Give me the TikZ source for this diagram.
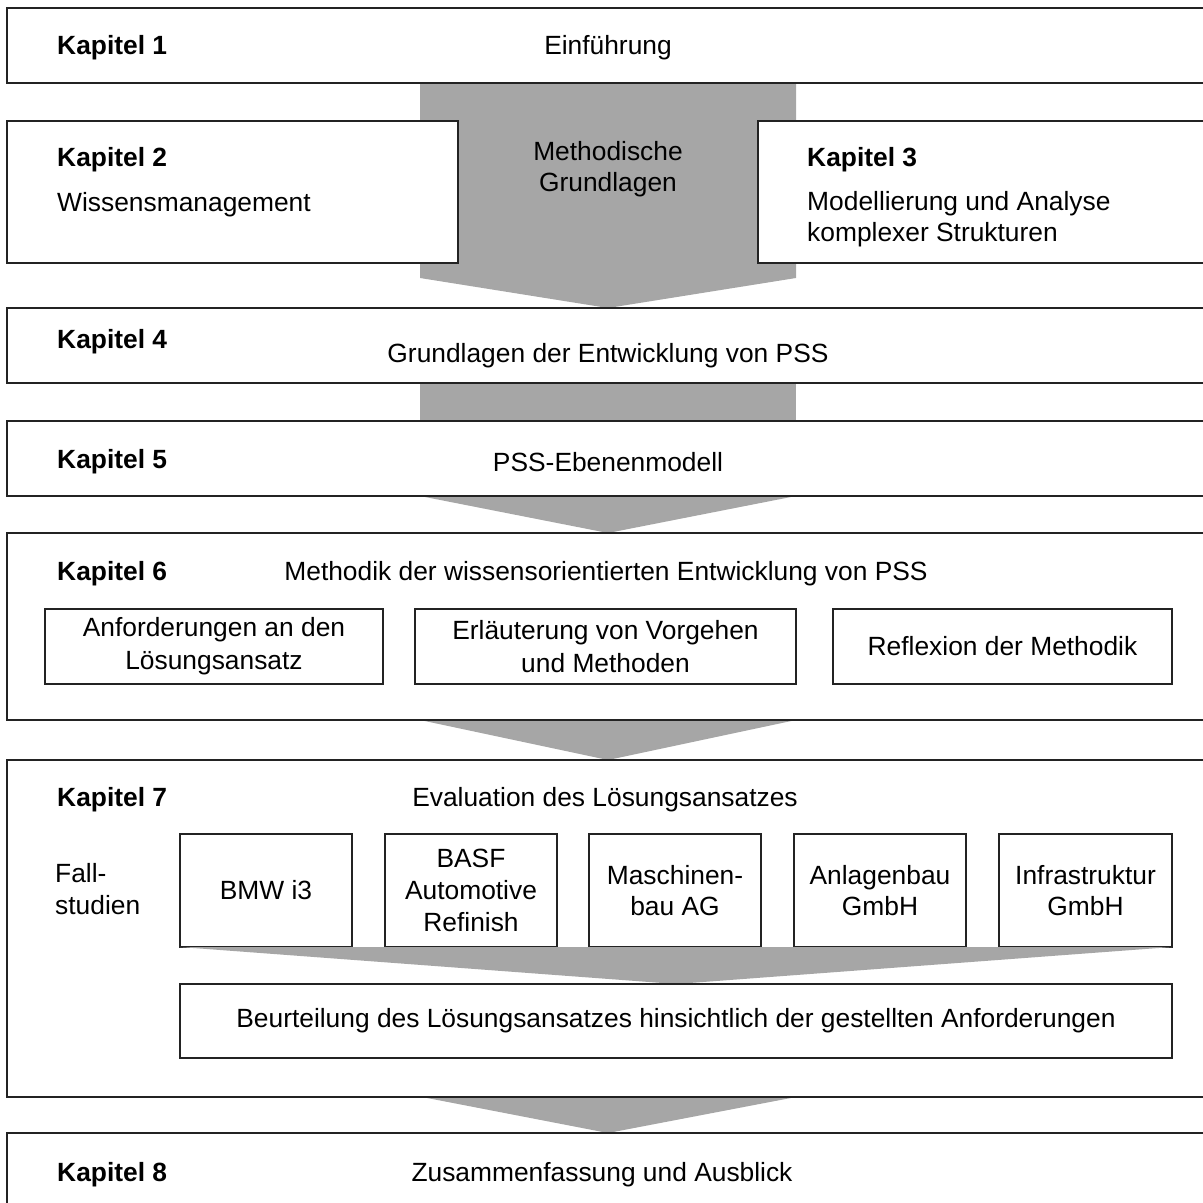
\documentclass[tikz,border=0pt]{standalone}
\usepackage{fontspec}
\setmainfont{Liberation Sans}
\usepackage{xcolor}
\usetikzlibrary{fit,positioning}
\definecolor{flowgray}{RGB}{166,166,166}
\definecolor{framegray}{RGB}{35,35,35}

\begin{document}
\begin{tikzpicture}[x=0.03cm, y=-0.03cm,
  chapbox/.style={draw=framegray, fill=white, line width=1pt, inner sep=0pt},
  subbox/.style={draw=framegray, fill=white, line width=1pt, inner sep=0pt},
  kaplabel/.style={font=\fontsize{22.5}{27}\selectfont\bfseries, anchor=west, inner sep=0pt},
  chaptext/.style={font=\fontsize{22.5}{27}\selectfont, align=center, inner sep=0pt},
  flow/.style={fill=flowgray, draw=none}]
\useasboundingbox (0,0) rectangle (1203,1202);
% grey flow shapes
\fill[flow] (420,83)--(796,83)--(796,278)--(608,308)--(420,278)--cycle;
\fill[flow] (420,383) rectangle (796,421);
\fill[flow] (420,496)--(796,496)--(608,533)--cycle;
\fill[flow] (420,720)--(796,720)--(608,760)--cycle;
\fill[flow] (422,1097)--(796,1097)--(608,1133)--cycle;
\node[chaptext] (meth) at (608,169) {Methodische\\Grundlagen};
% Kapitel 1
\node[chapbox, fit={(7,8) (1215,83)}] (k1) {};
\node[kaplabel] (k1lab) at (57,48) {Kapitel 1};
\node[chaptext] (k1txt) at (608,48) {Einführung};
% Kapitel 2 and 3
\node[chapbox, fit={(7,121) (458,263)}] (k2) {};
\node[kaplabel] (k2lab) at (57,160) {Kapitel 2};
\node[chaptext, anchor=west] (k2txt) at (57,205) {Wissensmanagement};
\node[chapbox, fit={(758,121) (1215,263)}] (k3) {};
\node[kaplabel] (k3lab) at (807,160) {Kapitel 3};
\node[chaptext, anchor=west, align=left] (k3txt) at (807,219) {Modellierung und Analyse\\komplexer Strukturen};
% Kapitel 4
\node[chapbox, fit={(7,308) (1215,383)}] (k4) {};
\node[kaplabel] (k4lab) at (57,342) {Kapitel 4};
\node[chaptext] (k4txt) at (608,356) {Grundlagen der Entwicklung von PSS};
% Kapitel 5
\node[chapbox, fit={(7,421) (1215,496)}] (k5) {};
\node[kaplabel] (k5lab) at (57,462) {Kapitel 5};
\node[chaptext] (k5txt) at (608,462) {PSS-Ebenenmodell};
% Kapitel 6
\node[chapbox, fit={(7,533) (1215,720)}] (k6) {};
\node[kaplabel] (k6lab) at (57,574) {Kapitel 6};
\node[chaptext] (k6txt) at (606,574) {Methodik der wissensorientierten Entwicklung von PSS};
\node[subbox, fit={(45,609) (383,684)}] (req) {};
\node[subbox, fit={(415,609) (796,684)}] (proc) {};
\node[subbox, fit={(833,609) (1172,684)}] (refl) {};
\node[chaptext, font=\fontsize{22.5}{28}\selectfont] (reqtxt) at (req) {Anforderungen an den\\Lösungsansatz};
\node[chaptext, font=\fontsize{22.5}{28}\selectfont] (proctxt) at (proc) {Erläuterung von Vorgehen\\und Methoden};
\node[chaptext] (refltxt) at (refl) {Reflexion der Methodik};
% Kapitel 7
\node[chapbox, fit={(7,760) (1215,1097)}] (k7) {};
\node[kaplabel] (k7lab) at (57,800) {Kapitel 7};
\node[chaptext] (k7txt) at (605,800) {Evaluation des Lösungsansatzes};
\node[chaptext, anchor=west, align=left] (cases) at (55,889) {Fall-\\studien};
\node[subbox, fit={(180,834) (352,947)}] (bmw) {};
\node[subbox, fit={(385,834) (557,947)}] (basf) {};
\node[subbox, fit={(589,834) (761,947)}] (mab) {};
\node[subbox, fit={(794,834) (966,947)}] (anl) {};
\node[subbox, fit={(999,834) (1172,947)}] (inf) {};
\node[chaptext] (bmwtxt) at (bmw) {BMW i3};
\node[chaptext] (basftxt) at (basf) {BASF\\Automotive\\Refinish};
\node[chaptext] (mabtxt) at (mab) {Maschinen-\\bau AG};
\node[chaptext] (anltxt) at (anl) {Anlagenbau\\GmbH};
\node[chaptext] (inftxt) at (inf) {Infrastruktur\\GmbH};
\fill[flow] (180,947)--(1172,947)--(676,984)--cycle;
\node[subbox, fit={(180,984) (1172,1058)}] (eval) {};
\node[chaptext] (evaltxt) at (eval) {Beurteilung des Lösungsansatzes hinsichtlich der gestellten Anforderungen};
% Kapitel 8
\node[chapbox, fit={(7,1133) (1215,1260)}] (k8) {};
\node[kaplabel] (k8lab) at (57,1175) {Kapitel 8};
\node[chaptext] (k8txt) at (602,1175) {Zusammenfassung und Ausblick};
\end{tikzpicture}
\end{document}
